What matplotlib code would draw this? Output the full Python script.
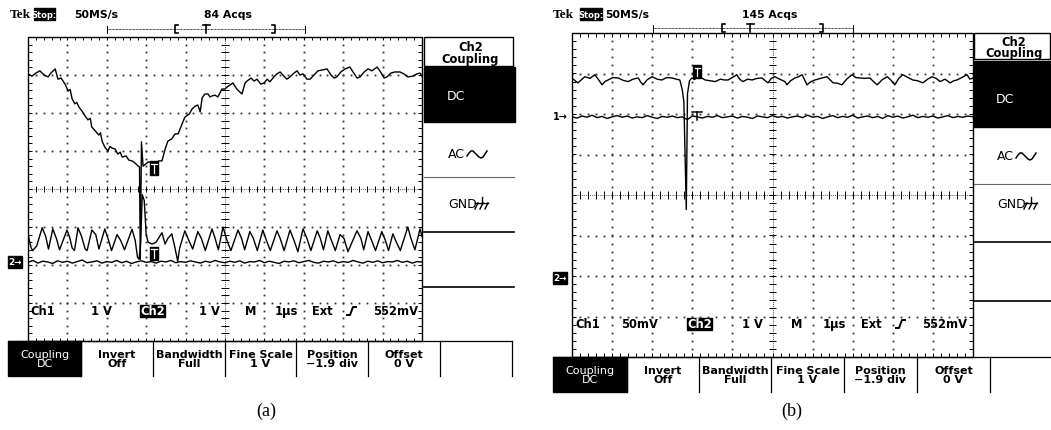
import numpy as np
import matplotlib.pyplot as plt
from matplotlib.patches import Rectangle
from matplotlib.collections import LineCollection

W, H = 1051, 431

# ---------------- traces (x: div = us, y: div) ----------------
# (a) upper trace, slow dip with a glitch at ~2.85 div
ch1_a = [(0, 3.03), (0.1, 2.97), (0.2, 3.05), (0.3, 3.11), (0.41, 3.0), (0.51, 2.95), (0.58, 3.05),
         (0.69, 3.16), (0.76, 2.89), (0.84, 2.92), (0.94, 2.76), (1.02, 2.58), (1.07, 2.62), (1.12, 2.37),
         (1.19, 2.24), (1.24, 2.28), (1.29, 2.16), (1.37, 2.05), (1.45, 1.92), (1.52, 1.82), (1.58, 1.86),
         (1.62, 1.63), (1.73, 1.5), (1.8, 1.42), (1.84, 1.48), (1.88, 1.26), (1.95, 1.1), (2.03, 1.0),
         (2.08, 1.12), (2.13, 1.08), (2.21, 1.05), (2.28, 0.92), (2.34, 0.97), (2.39, 0.84), (2.49, 0.87),
         (2.56, 0.76), (2.64, 0.74), (2.72, 0.68), (2.79, 0.61), (2.83, 0.58), (2.85, -1.85), (2.88, 1.24),
         (2.92, 0.6), (2.99, 0.66), (3.05, 0.71), (3.15, 0.71), (3.25, 0.68), (3.32, 0.74), (3.4, 0.74),
         (3.48, 1.05), (3.55, 1.26), (3.65, 1.32), (3.73, 1.45), (3.81, 1.45), (3.91, 1.71), (3.98, 1.89),
         (4.09, 1.97), (4.16, 2.1), (4.24, 2.18), (4.31, 2.21), (4.37, 2.03), (4.42, 2.4), (4.49, 2.5),
         (4.57, 2.5), (4.62, 2.42), (4.67, 2.45), (4.75, 2.47), (4.82, 2.42), (4.92, 2.63), (5.0, 2.63),
         (5.05, 2.68), (5.13, 2.74), (5.2, 2.79), (5.3, 2.63), (5.38, 2.55), (5.43, 2.5), (5.51, 2.79),
         (5.56, 2.84), (5.66, 2.92), (5.74, 2.84), (5.81, 2.89), (5.91, 2.76), (5.99, 2.79), (6.07, 2.89),
         (6.14, 2.82), (6.24, 2.95), (6.32, 3.03), (6.4, 3.08), (6.47, 3.0), (6.57, 2.89), (6.65, 2.95),
         (6.75, 3.05), (6.83, 3.11), (6.9, 3.0), (6.98, 3.03), (7.08, 2.89), (7.16, 2.89), (7.26, 3.0),
         (7.36, 3.11), (7.46, 3.13), (7.59, 3.16), (7.69, 3.0), (7.77, 2.92), (7.84, 2.95), (7.94, 3.08),
         (8.05, 3.16), (8.17, 3.21), (8.25, 3.08), (8.35, 2.92), (8.43, 2.95), (8.53, 3.08), (8.63, 3.16),
         (8.73, 3.11), (8.86, 3.21), (8.93, 3.11), (9.04, 2.92), (9.11, 2.95), (9.21, 3.05), (9.31, 3.08),
         (9.44, 3.08), (9.54, 3.03), (9.64, 2.95), (9.77, 2.97), (9.87, 3.03), (9.95, 3.05), (10.0, 2.97)]

# (a) lower oscillating trace
osc_a = [(0.0, -1.2), (0.08, -1.55), (0.12, -1.62), (0.22, -1.5), (0.36, -1.02), (0.45, -1.25), (0.52, -1.58),
         (0.63, -1.05), (0.72, -1.3), (0.8, -1.6), (0.99, -1.08), (1.06, -1.28), (1.12, -1.55), (1.18, -1.62),
         (1.27, -1.02), (1.36, -1.25), (1.45, -1.58), (1.5, -1.62), (1.62, -1.08), (1.72, -1.2), (1.8, -1.58),
         (1.95, -1.05), (2.03, -1.3), (2.12, -1.62), (2.26, -1.2), (2.35, -1.35), (2.45, -1.6), (2.64, -1.06),
         (2.72, -1.35), (2.78, -1.8), (2.82, -1.85), (2.86, -1.4), (2.9, -0.15), (2.95, -0.3), (3.0, -1.2),
         (3.05, -1.4), (3.15, -1.45), (3.25, -1.4), (3.4, -1.15), (3.48, -1.45), (3.55, -1.3), (3.65, -1.18),
         (3.72, -1.5), (3.8, -1.9), (3.85, -1.55), (3.98, -1.1), (4.08, -1.35), (4.18, -1.58), (4.31, -1.12),
         (4.4, -1.3), (4.5, -1.62), (4.67, -1.05), (4.75, -1.3), (4.83, -1.6), (4.95, -1.0), (5.05, -1.35),
         (5.15, -1.62), (5.33, -1.08), (5.42, -1.3), (5.5, -1.6), (5.63, -1.12), (5.72, -1.3), (5.82, -1.62),
         (5.96, -1.08), (6.05, -1.35), (6.15, -1.62), (6.32, -1.1), (6.4, -1.3), (6.5, -1.62), (6.65, -1.08),
         (6.75, -1.35), (6.85, -1.65), (6.98, -1.05), (7.08, -1.3), (7.18, -1.62), (7.34, -1.1), (7.42, -1.3),
         (7.5, -1.6), (7.61, -1.1), (7.7, -1.35), (7.8, -1.62), (7.92, -1.2), (8.02, -1.3), (8.12, -1.65),
         (8.35, -1.1), (8.45, -1.3), (8.52, -1.6), (8.63, -1.12), (8.72, -1.35), (8.82, -1.62), (8.98, -1.12),
         (9.07, -1.35), (9.15, -1.62), (9.26, -1.18), (9.35, -1.4), (9.45, -1.62), (9.64, -1.0), (9.72, -1.3),
         (9.82, -1.6), (9.95, -1.05), (10.0, -1.25)]

# (a) ch2 ground-level trace, one value every 0.125 div
base_a = [-1.93, -1.88, -1.95, -1.90, -1.92, -1.96, -1.89, -1.93, -1.90, -1.95,
          -1.91, -1.87, -1.94, -1.92, -1.89, -1.95, -1.91, -1.93, -1.88, -1.94,
          -1.90, -1.96, -1.92, -1.89, -1.93, -1.91, -1.95, -1.90, -1.92, -1.88,
          -1.94, -1.91, -1.93, -1.89, -1.92, -1.95, -1.90, -1.93, -1.88, -1.92,
          -1.94, -1.90, -1.93, -1.89, -1.95, -1.91, -1.92, -1.88, -1.94, -1.90,
          -1.93, -1.96, -1.90, -1.92, -1.89, -1.94, -1.91, -1.88, -1.93, -1.95,
          -1.90, -1.92, -1.89, -1.94, -1.91, -1.93, -1.88, -1.92, -1.95, -1.90,
          -1.93, -1.89, -1.94, -1.91, -1.92, -1.88, -1.93, -1.90, -1.95, -1.91, -1.92]

# (b) upper trace with the narrow negative spike
ch2_b = [(0, 2.89), (0.08, 2.82), (0.15, 2.77), (0.25, 2.86), (0.32, 2.92), (0.45, 2.88), (0.57, 2.97),
         (0.66, 2.85), (0.75, 2.72), (0.82, 2.8), (0.9, 2.84), (1.02, 2.9), (1.15, 2.89), (1.28, 2.83),
         (1.4, 2.8), (1.52, 2.86), (1.65, 2.89), (1.72, 2.78), (1.77, 2.72), (1.88, 2.85), (2.0, 2.92),
         (2.12, 2.86), (2.24, 2.84), (2.36, 2.9), (2.49, 2.89), (2.6, 2.86), (2.69, 2.84), (2.75, 2.6),
         (2.79, 2.3), (2.85, -0.36), (2.88, 2.5), (2.93, 2.82), (2.99, 2.89), (3.06, 2.85), (3.14, 2.97),
         (3.22, 2.9), (3.32, 2.84), (3.45, 2.82), (3.57, 2.8), (3.7, 2.86), (3.8, 2.84), (3.89, 2.84),
         (4.0, 2.9), (4.11, 2.97), (4.18, 2.86), (4.26, 2.8), (4.38, 2.86), (4.49, 2.84), (4.62, 2.88),
         (4.74, 2.89), (4.82, 2.82), (4.89, 2.77), (4.97, 2.88), (5.06, 2.92), (5.18, 2.86), (5.31, 2.8),
         (5.36, 2.72), (5.45, 2.82), (5.56, 2.89), (5.65, 2.92), (5.74, 2.97), (5.86, 2.72), (5.96, 2.8),
         (6.06, 2.84), (6.2, 2.88), (6.36, 2.92), (6.51, 2.77), (6.62, 2.76), (6.73, 2.72), (6.85, 2.86),
         (6.98, 2.97), (7.08, 2.9), (7.18, 2.89), (7.3, 2.88), (7.43, 2.89), (7.52, 2.8), (7.61, 2.72),
         (7.74, 2.85), (7.86, 2.92), (7.95, 2.84), (8.05, 2.72), (8.15, 2.88), (8.25, 2.97), (8.38, 2.9),
         (8.5, 2.84), (8.62, 2.82), (8.75, 2.77), (8.87, 2.86), (8.98, 2.92), (9.08, 2.88), (9.18, 2.8),
         (9.3, 2.86), (9.43, 2.77), (9.52, 2.82), (9.6, 2.84), (9.72, 2.9), (9.85, 2.97), (9.92, 2.86),
         (10.0, 2.89)]

# (b) ch1 trace (50 mV/div), one value every 0.125 div
ch1_b = [1.93, 1.90, 1.95, 1.92, 1.97, 1.91, 1.94, 1.89, 1.93, 1.96,
         1.92, 1.95, 1.90, 1.93, 1.91, 1.96, 1.92, 1.89, 1.94, 1.92,
         1.95, 1.91, 1.93, 1.86, 1.95, 1.93, 1.90, 1.94, 1.92, 1.96,
         1.91, 1.93, 1.95, 1.90, 1.94, 1.92, 1.89, 1.95, 1.93, 1.91,
         1.96, 1.92, 1.94, 1.90, 1.93, 1.95, 1.91, 1.97, 1.92, 1.94,
         1.89, 1.93, 1.96, 1.91, 1.94, 1.92, 1.97, 1.90, 1.93, 1.95,
         1.91, 1.94, 1.89, 1.96, 1.92, 1.95, 1.90, 1.93, 1.97, 1.91,
         1.94, 1.92, 1.95, 1.90, 1.93, 1.96, 1.91, 1.94, 1.92, 1.95, 1.93]

acqs = ['84 Acqs', '145 Acqs']
ch1_scale = ['1 V', '50mV']
bottom_menu = [('Coupling', 'DC'), ('Invert', 'Off'), ('Bandwidth', 'Full'), ('Fine Scale', '1 V'),
               ('Position', '\u22121.9 div'), ('Offset', '0 V')]

# ---------------- layout (pixels) ----------------
panels = [
    dict(grat=(28, 38, 422, 342), menu=(423, 514), head=(38, 67), dc=(68, 123), seps=[178, 233, 288],
         dc_y=97, ac_y=155, gnd_y=205, menu_tx=447, bot=(342, 377),
         edges=[8, 81, 153, 225, 296, 368, 440, 512], tek=10, stop=(34, 55), ms=74, acq=228,
         bar=(107, 305, 175, 206, 275, 30), ry=312,
         rd=dict(ch1=30, s1=112, ch2=(140, 165), s2=220, m=251, t=286, ext=322, ramp=347, trig=418),
         cap=(266, 411, '(a)')),
    dict(grat=(572, 34, 973, 358), menu=(973, 1051), head=(34, 60), dc=(62, 128), seps=[185, 243, 302],
         dc_y=100, ac_y=157, gnd_y=205, menu_tx=996, bot=(358, 393),
         edges=[553, 627, 699, 771, 844, 917, 990, 1063], tek=553, stop=(580, 602), ms=605, acq=770,
         bar=(653, 853, 722, 750, 823, 29), ry=325,
         rd=dict(ch1=575, s1=658, ch2=(687, 712), s2=763, m=797, t=834, ext=871, ramp=896, trig=967),
         cap=(792, 411, '(b)')),
]

fig = plt.figure(figsize=(W / 100, H / 100), dpi=100)
bg = fig.add_axes([0, 0, 1, 1])
bg.set_xlim(0, W)
bg.set_ylim(H, 0)
bg.axis('off')

SANS = 'DejaVu Sans'


def graticule(l, t, r, b):
    ax = fig.add_axes([l / W, 1 - b / H, (r - l) / W, (b - t) / H])
    ax.set_xlim(0, 10)
    ax.set_ylim(-4, 4)
    ax.axis('off')
    sx = np.arange(0, 10.001, 0.2)
    sy = np.arange(-4, 4.001, 0.2)
    for gx in (1, 2, 3, 4, 6, 7, 8, 9):
        ax.plot(np.full(len(sy), gx), sy, ls='none', marker='s', ms=1.3, mew=0, color='0.2')
    for gy in (-3, -2, -1, 1, 2, 3):
        ax.plot(sx, np.full(len(sx), gy), ls='none', marker='s', ms=1.3, mew=0, color='0.2')
    ax.plot([0, 10], [0, 0], color='0.35', lw=0.7, ls=(0, (1, 1)))
    ax.plot([5, 5], [-4, 4], color='0.35', lw=0.7, ls=(0, (1, 1)))
    segs = []
    for x in sx:
        segs += [[(x, -0.09), (x, 0.09)], [(x, 4), (x, 3.91)], [(x, -4), (x, -3.91)]]
    for y in sy:
        segs += [[(4.91, y), (5.09, y)], [(0, y), (0.09, y)], [(10, y), (9.91, y)]]
    ax.add_collection(LineCollection(segs, colors='k', linewidths=0.7))
    ax.plot([0, 10, 10, 0, 0], [-4, -4, 4, 4, -4], color='k', lw=1.0, clip_on=False)
    return ax


def trig_box(ax, x, y, w, h):
    ax.add_patch(Rectangle((x - w / 2, y - h / 2), w, h, color='k', zorder=5))
    ax.plot([x - w * 0.3, x + w * 0.3], [y + h * 0.3, y + h * 0.3], color='w', lw=0.9, zorder=6)
    ax.plot([x, x], [y + h * 0.3, y - h * 0.35], color='w', lw=0.9, zorder=6)


def chrome(p, k):
    # header line
    bg.text(p['tek'], 15, 'Tek', family='Liberation Serif', weight='bold', fontsize=9.5, va='center')
    s0, s1 = p['stop']
    bg.add_patch(Rectangle((s0, 9), s1 - s0, 12, color='k'))
    bg.text((s0 + s1) / 2, 15.5, 'Stop:', color='w', fontsize=6, weight='bold', ha='center', va='center', family=SANS)
    bg.text(p['ms'], 15, '50MS/s', fontsize=7.8, weight='bold', va='center', family=SANS)
    bg.text(p['acq'], 15, acqs[k], fontsize=7.8, weight='bold', ha='center', va='center', family=SANS)
    # record bar
    x0, x1, xl, xt, xr, y = p['bar']
    bg.plot([x0, x1], [y, y], color='k', lw=0.6, ls=(0, (1, 0.7)))
    bg.plot([x0, x0], [y - 3.5, y + 3.5], color='k', lw=0.7)
    bg.plot([x1, x1], [y - 3.5, y + 3.5], color='k', lw=0.7)
    bg.plot([xl + 3, xl, xl, xl + 3], [y - 4, y - 4, y + 4, y + 4], color='k', lw=1.2)
    bg.plot([xr - 3, xr, xr, xr - 3], [y - 4, y - 4, y + 4, y + 4], color='k', lw=1.2)
    bg.plot([xt - 3.5, xt + 3.5], [y - 4, y - 4], color='k', lw=1.2)
    bg.plot([xt, xt], [y - 4, y + 4], color='k', lw=1.2)

    # side menu
    m0, m1 = p['menu']
    h0, h1 = p['head']
    bg.add_patch(Rectangle((m0 + 1, h0), m1 - m0 - 2, h1 - h0, fill=False, ec='k', lw=1.0))
    bg.text((m0 + m1) / 2 + 2, (h0 + h1) / 2 + 1, 'Ch2\nCoupling', fontsize=8.3, weight='bold',
            ha='center', va='center', linespacing=0.9, family=SANS)
    d0, d1 = p['dc']
    bg.add_patch(Rectangle((m0 + 1, d0), m1 - m0, d1 - d0, color='k'))
    tx = p['menu_tx']
    bg.text(tx, p['dc_y'], 'DC', color='w', fontsize=9, va='center', family=SANS)
    bg.text(tx + 1, p['ac_y'], 'AC', fontsize=9, va='center', family=SANS)
    ax_ = tx + 20
    ay = p['ac_y']
    bg.plot([ax_ + v for v in (0, 2, 4, 6, 8, 10, 12, 14, 16, 18, 20)],
            [ay + v for v in (2, -1, -3, -3, -1, 1, 3, 4, 3, 0, -3)], color='k', lw=1.1)
    bg.text(tx + 1, p['gnd_y'], 'GND', fontsize=9, va='center', family=SANS)
    gx, gy = tx + 28, p['gnd_y']
    bg.plot([gx, gx + 13], [gy - 1, gy - 1], color='k', lw=1.0)
    bg.plot([gx + 7, gx + 7], [gy - 7, gy - 1], color='k', lw=1.0)
    for hx in (gx + 3, gx + 8, gx + 13):
        bg.plot([hx, hx - 3], [gy - 1, gy + 5], color='k', lw=1.0)
    for i, yy in enumerate(p['seps']):
        bg.plot([m0 + 1, m1], [yy, yy], color='0.4' if i == 0 else 'k', lw=0.8 if i == 0 else 1.2)

    # bottom menu
    b0, b1 = p['bot']
    ed = p['edges']
    bg.plot([ed[0], min(ed[-1], W)], [b0, b0], color='k', lw=0.9)
    bg.add_patch(Rectangle((ed[0], b0), ed[1] - ed[0], b1 - b0, color='k'))
    for e in ed[1:]:
        bg.plot([e, e], [b0, b1], color='k', lw=0.9)
    for i, (top, bot) in enumerate(bottom_menu):
        cx = (ed[i] + ed[i + 1]) / 2
        if i == 0:
            bg.text(cx, (b0 + b1) / 2, top + '\n' + bot, color='w', fontsize=8, ha='center', va='center',
                    linespacing=0.85, family=SANS)
        else:
            bg.text(cx, (b0 + b1) / 2, top + '\n' + bot, fontsize=8, weight='bold', ha='center', va='center',
                    linespacing=0.85, family=SANS)

    # readout row
    rd = p['rd']
    ry = p['ry']
    kw = dict(fontsize=8.3, weight='bold', va='center', family=SANS)
    bg.text(rd['ch1'], ry, 'Ch1', **kw)
    bg.text(rd['s1'], ry, ch1_scale[k], ha='right', **kw)
    c0, c1 = rd['ch2']
    bg.add_patch(Rectangle((c0, ry - 6), c1 - c0, 12, color='k'))
    bg.text((c0 + c1) / 2, ry, 'Ch2', color='w', ha='center', **kw)
    bg.text(rd['s2'], ry, '1 V', ha='right', **kw)
    bg.text(rd['m'], ry, 'M', ha='center', **kw)
    bg.text(rd['t'], ry, '1\u00b5s', ha='center', **kw)
    bg.text(rd['ext'], ry, 'Ext', ha='center', **kw)
    rx = rd['ramp']
    bg.plot([rx, rx + 3, rx + 6, rx + 9], [ry + 4, ry + 4, ry - 4, ry - 4], color='k', lw=1.4)
    bg.text(rd['trig'], ry, '552mV', ha='right', **kw)

    # caption
    cx, cy, ct = p['cap']
    bg.text(cx, cy, ct, family='Liberation Serif', fontsize=13, ha='center', va='center')


# ---------------- panel (a) ----------------
pa = panels[0]
chrome(pa, 0)
ax_a = graticule(*pa['grat'])
t, v = np.array(ch1_a).T
ax_a.plot(t, v, color='k', lw=1.0)
t, v = np.array(osc_a).T
ax_a.plot(t, v, color='k', lw=1.0)
ax_a.plot(np.arange(len(base_a)) * 0.125, base_a, color='k', lw=1.0)
trig_box(ax_a, 3.2, 0.55, 0.22, 0.36)
trig_box(ax_a, 3.2, -1.7, 0.22, 0.36)
bg.add_patch(Rectangle((8, 257), 14, 12, color='k'))
bg.text(15, 263, '2\u2192', color='w', fontsize=6.3, weight='bold', ha='center', va='center', family=SANS)

# ---------------- panel (b) ----------------
pb = panels[1]
chrome(pb, 1)
ax_b = graticule(*pb['grat'])
t, v = np.array(ch2_b).T
ax_b.plot(t, v, color='k', lw=1.0)
ax_b.plot(np.arange(len(ch1_b)) * 0.125, ch1_b, color='k', lw=1.0)
trig_box(ax_b, 3.12, 3.05, 0.2, 0.3)
ax_b.plot([3.0, 3.24], [2.05, 2.05], color='k', lw=1.1)
ax_b.plot([3.12, 3.12], [2.05, 1.85], color='k', lw=1.1)
bg.text(560, 117, '1\u2192', fontsize=7, weight='bold', ha='center', va='center', family=SANS)
bg.add_patch(Rectangle((553, 273), 14, 12, color='k'))
bg.text(560, 279, '2\u2192', color='w', fontsize=6.3, weight='bold', ha='center', va='center', family=SANS)

fig.savefig('out.png', dpi=100)
